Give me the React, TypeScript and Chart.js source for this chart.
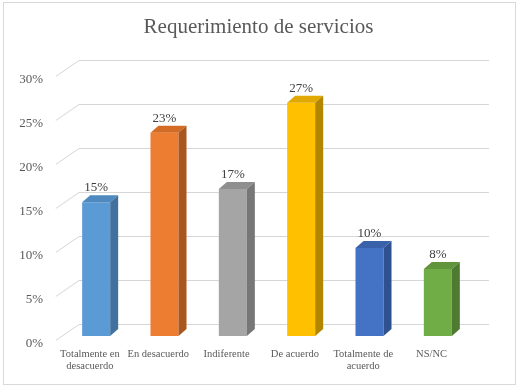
import React, { useEffect, useRef } from 'react';
import { Chart, registerables } from 'chart.js';

Chart.register(...registerables);

const TITLE = 'Requerimiento de servicios';
const categories: string[][] = [
  ['Totalmente en', 'desacuerdo'],
  ['En desacuerdo'],
  ['Indiferente'],
  ['De acuerdo'],
  ['Totalmente de', 'acuerdo'],
  ['NS/NC'],
];
const values = [0.152, 0.231, 0.167, 0.265, 0.1, 0.076];
const tickValues = [0, 0.05, 0.1, 0.15, 0.2, 0.25, 0.3];
const frontColors = ['#5B9BD5', '#ED7D31', '#A5A5A5', '#FFC000', '#4472C4', '#70AD47'];
const topColors = ['#4E89C0', '#D46B24', '#8F8F8F', '#E0A800', '#3A62AB', '#60953D'];
const sideColors = ['#41719C', '#A9561F', '#777777', '#B38600', '#2F5191', '#4E7A32'];

const FONT = '"Liberation Serif", "Times New Roman", serif';
const TEXT = '#595959';
const GRID = '#d6d6d6';
// 3D offsets relative to the bar (front face) plane
const FRONT_DX = -6.25, FRONT_DY = 4;
const BACK_DX = 17, BACK_DY = -12;
const BAR_DX = 8, BAR_DY = -7;

const pct = (v: number) => `${Math.round(v * 100)}%`;

const threeD = {
  id: 'threeD',
  beforeDraw(chart: any) {
    const { ctx } = chart;
    ctx.save();
    ctx.fillStyle = '#ffffff';
    ctx.fillRect(0, 0, chart.width, chart.height);
    ctx.strokeStyle = '#d9d9d9';
    ctx.lineWidth = 1;
    ctx.strokeRect(3.5, 2.5, chart.width - 7, chart.height - 5);
    ctx.fillStyle = TEXT;
    ctx.font = `21px ${FONT}`;
    ctx.textAlign = 'center';
    ctx.textBaseline = 'alphabetic';
    ctx.fillText(TITLE, chart.width / 2 - 1, 33);
    ctx.restore();
  },
  beforeDatasetsDraw(chart: any) {
    const { ctx, chartArea, scales } = chart;
    const y = scales.y;
    ctx.save();
    ctx.strokeStyle = GRID;
    ctx.lineWidth = 1;
    ctx.font = `13px ${FONT}`;
    ctx.fillStyle = TEXT;
    ctx.textAlign = 'right';
    ctx.textBaseline = 'middle';
    for (const t of tickValues) {
      const py = Math.round(y.getPixelForValue(t)) + 0.5;
      ctx.beginPath();
      ctx.moveTo(chartArea.left + FRONT_DX, py + FRONT_DY);
      ctx.lineTo(chartArea.left + BACK_DX, py + BACK_DY);
      ctx.lineTo(chartArea.right + BACK_DX, py + BACK_DY);
      ctx.stroke();
      ctx.fillText(pct(t), chartArea.left - 19, py + FRONT_DY + 3);
    }
    // category labels
    const meta = chart.getDatasetMeta(0);
    ctx.font = `10.5px ${FONT}`;
    ctx.textAlign = 'center';
    meta.data.forEach((bar: any, i: number) => {
      categories[i].forEach((line, j) => {
        ctx.fillText(line, bar.x + FRONT_DX, chartArea.bottom + 18 + j * 12);
      });
    });
    ctx.restore();
  },
  afterDatasetsDraw(chart: any) {
    const { ctx } = chart;
    const meta = chart.getDatasetMeta(0);
    ctx.save();
    meta.data.forEach((bar: any, i: number) => {
      const l = bar.x - bar.width / 2;
      const r = bar.x + bar.width / 2;
      const top = bar.y;
      const base = bar.base;
      ctx.fillStyle = topColors[i];
      ctx.beginPath();
      ctx.moveTo(l, top);
      ctx.lineTo(l + BAR_DX, top + BAR_DY);
      ctx.lineTo(r + BAR_DX, top + BAR_DY);
      ctx.lineTo(r, top);
      ctx.closePath();
      ctx.fill();
      ctx.fillStyle = sideColors[i];
      ctx.beginPath();
      ctx.moveTo(r, top);
      ctx.lineTo(r + BAR_DX, top + BAR_DY);
      ctx.lineTo(r + BAR_DX, base + BAR_DY);
      ctx.lineTo(r, base);
      ctx.closePath();
      ctx.fill();
      ctx.fillStyle = '#404040';
      ctx.font = `13px ${FONT}`;
      ctx.textAlign = 'center';
      ctx.textBaseline = 'middle';
      ctx.fillText(pct(values[i]), bar.x, top - 14.5);
    });
    ctx.restore();
  },
};

export default function App() {
  const ref = useRef<HTMLCanvasElement | null>(null);
  useEffect(() => {
    if (!ref.current) return;
    const chart = new Chart(ref.current, {
      type: 'bar',
      data: {
        labels: categories.map((c) => c.join(' ')),
        datasets: [
          {
            data: values,
            backgroundColor: frontColors,
            borderWidth: 0,
            barPercentage: 0.41,
            categoryPercentage: 1,
          },
        ],
      },
      options: {
        responsive: false,
        animation: false,
        layout: { padding: { left: 62, right: 47, top: 72, bottom: 51 } },
        scales: {
          x: { display: false },
          y: { display: false, min: 0, max: 0.3 },
        },
        plugins: {
          legend: { display: false },
          tooltip: { enabled: false },
          title: { display: false },
        },
      },
      plugins: [threeD],
    });
    return () => chart.destroy();
  }, []);
  return (
    <div style={{ position: 'fixed', left: 0, top: 0, width: 519, height: 387 }}>
      <canvas ref={ref} width={519} height={387} />
    </div>
  );
}
